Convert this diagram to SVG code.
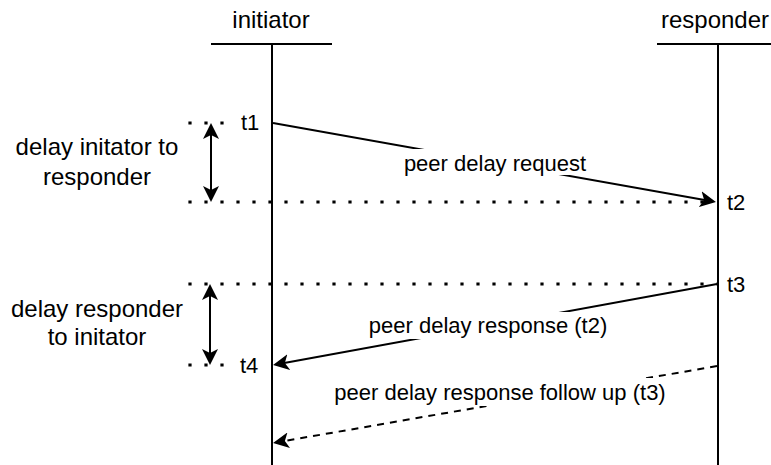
<svg xmlns="http://www.w3.org/2000/svg" width="771" height="465" viewBox="0 0 771 465">
<style>
text{font-family:"Liberation Sans",Arial,sans-serif;fill:#000}
.lbl{font-size:22px}
.side{font-size:24px;text-anchor:middle}
.hdr{font-size:24px;text-anchor:middle}
.life{stroke:#000;stroke-width:2;fill:none}
.msg{stroke:#000;stroke-width:2;fill:none}
.dash{stroke-dasharray:7 6}
.dot{stroke:#000;stroke-width:3.2;stroke-dasharray:3.2 12.8;fill:none}
.bg{fill:#fff}
</style>
<defs>
<marker id="arr" viewBox="0 0 16 16" markerWidth="16" markerHeight="16" refX="13" refY="8" orient="auto-start-reverse" markerUnits="userSpaceOnUse">
<path d="M16,8 L0,0 L4,8 L0,16 Z" fill="#000"/>
</marker>
</defs>
<g id="initiator">
<line class="life" x1="211" y1="44" x2="332" y2="44"/>
<line class="life" x1="272" y1="44" x2="272" y2="465"/>
<text class="hdr" x="271" y="28">initiator</text>
</g>
<g id="responder">
<line class="life" x1="657" y1="44" x2="779" y2="44"/>
<line class="life" x1="718" y1="44" x2="718" y2="465"/>
<text class="hdr" x="715" y="28">responder</text>
</g>
<g id="timestamps">
<line class="dot" x1="188.4" y1="123" x2="228" y2="123"/>
<line class="dot" x1="188.4" y1="202" x2="715" y2="202"/>
<line class="dot" x1="188.4" y1="284" x2="717" y2="284"/>
<line class="dot" x1="188.4" y1="365" x2="228" y2="365"/>
<text class="lbl" x="241" y="130">t1</text>
<text class="lbl" x="727" y="210">t2</text>
<text class="lbl" x="727" y="292">t3</text>
<text class="lbl" x="240" y="373">t4</text>
</g>
<g id="delay-initiator-to-responder">
<line class="msg" x1="211" y1="126" x2="211" y2="199" marker-start="url(#arr)" marker-end="url(#arr)"/>
<text class="side" x="97" y="155">delay initator to</text>
<text class="side" x="97" y="185">responder</text>
</g>
<g id="delay-responder-to-initiator">
<line class="msg" x1="210" y1="287" x2="210" y2="362" marker-start="url(#arr)" marker-end="url(#arr)"/>
<text class="side" x="97" y="317">delay responder</text>
<text class="side" x="97" y="345">to initator</text>
</g>
<g id="connectors">
<line class="msg" x1="273" y1="123" x2="713" y2="201.5" marker-end="url(#arr)"/>
<rect class="bg" x="402" y="149" width="186" height="26"/>
<text class="lbl" x="495" y="171" text-anchor="middle">peer delay request</text>
<line class="msg" x1="717" y1="284" x2="276" y2="364.5" marker-end="url(#arr)"/>
<rect class="bg" x="367" y="312" width="242" height="27"/>
<text class="lbl" x="488" y="333" text-anchor="middle">peer delay response (t2)</text>
<line class="msg dash" x1="717" y1="366" x2="276" y2="442.5" marker-end="url(#arr)"/>
<rect class="bg" x="333" y="378" width="335" height="28"/>
<text class="lbl" x="500" y="400" text-anchor="middle">peer delay response follow up (t3)</text>
</g>
</svg>
